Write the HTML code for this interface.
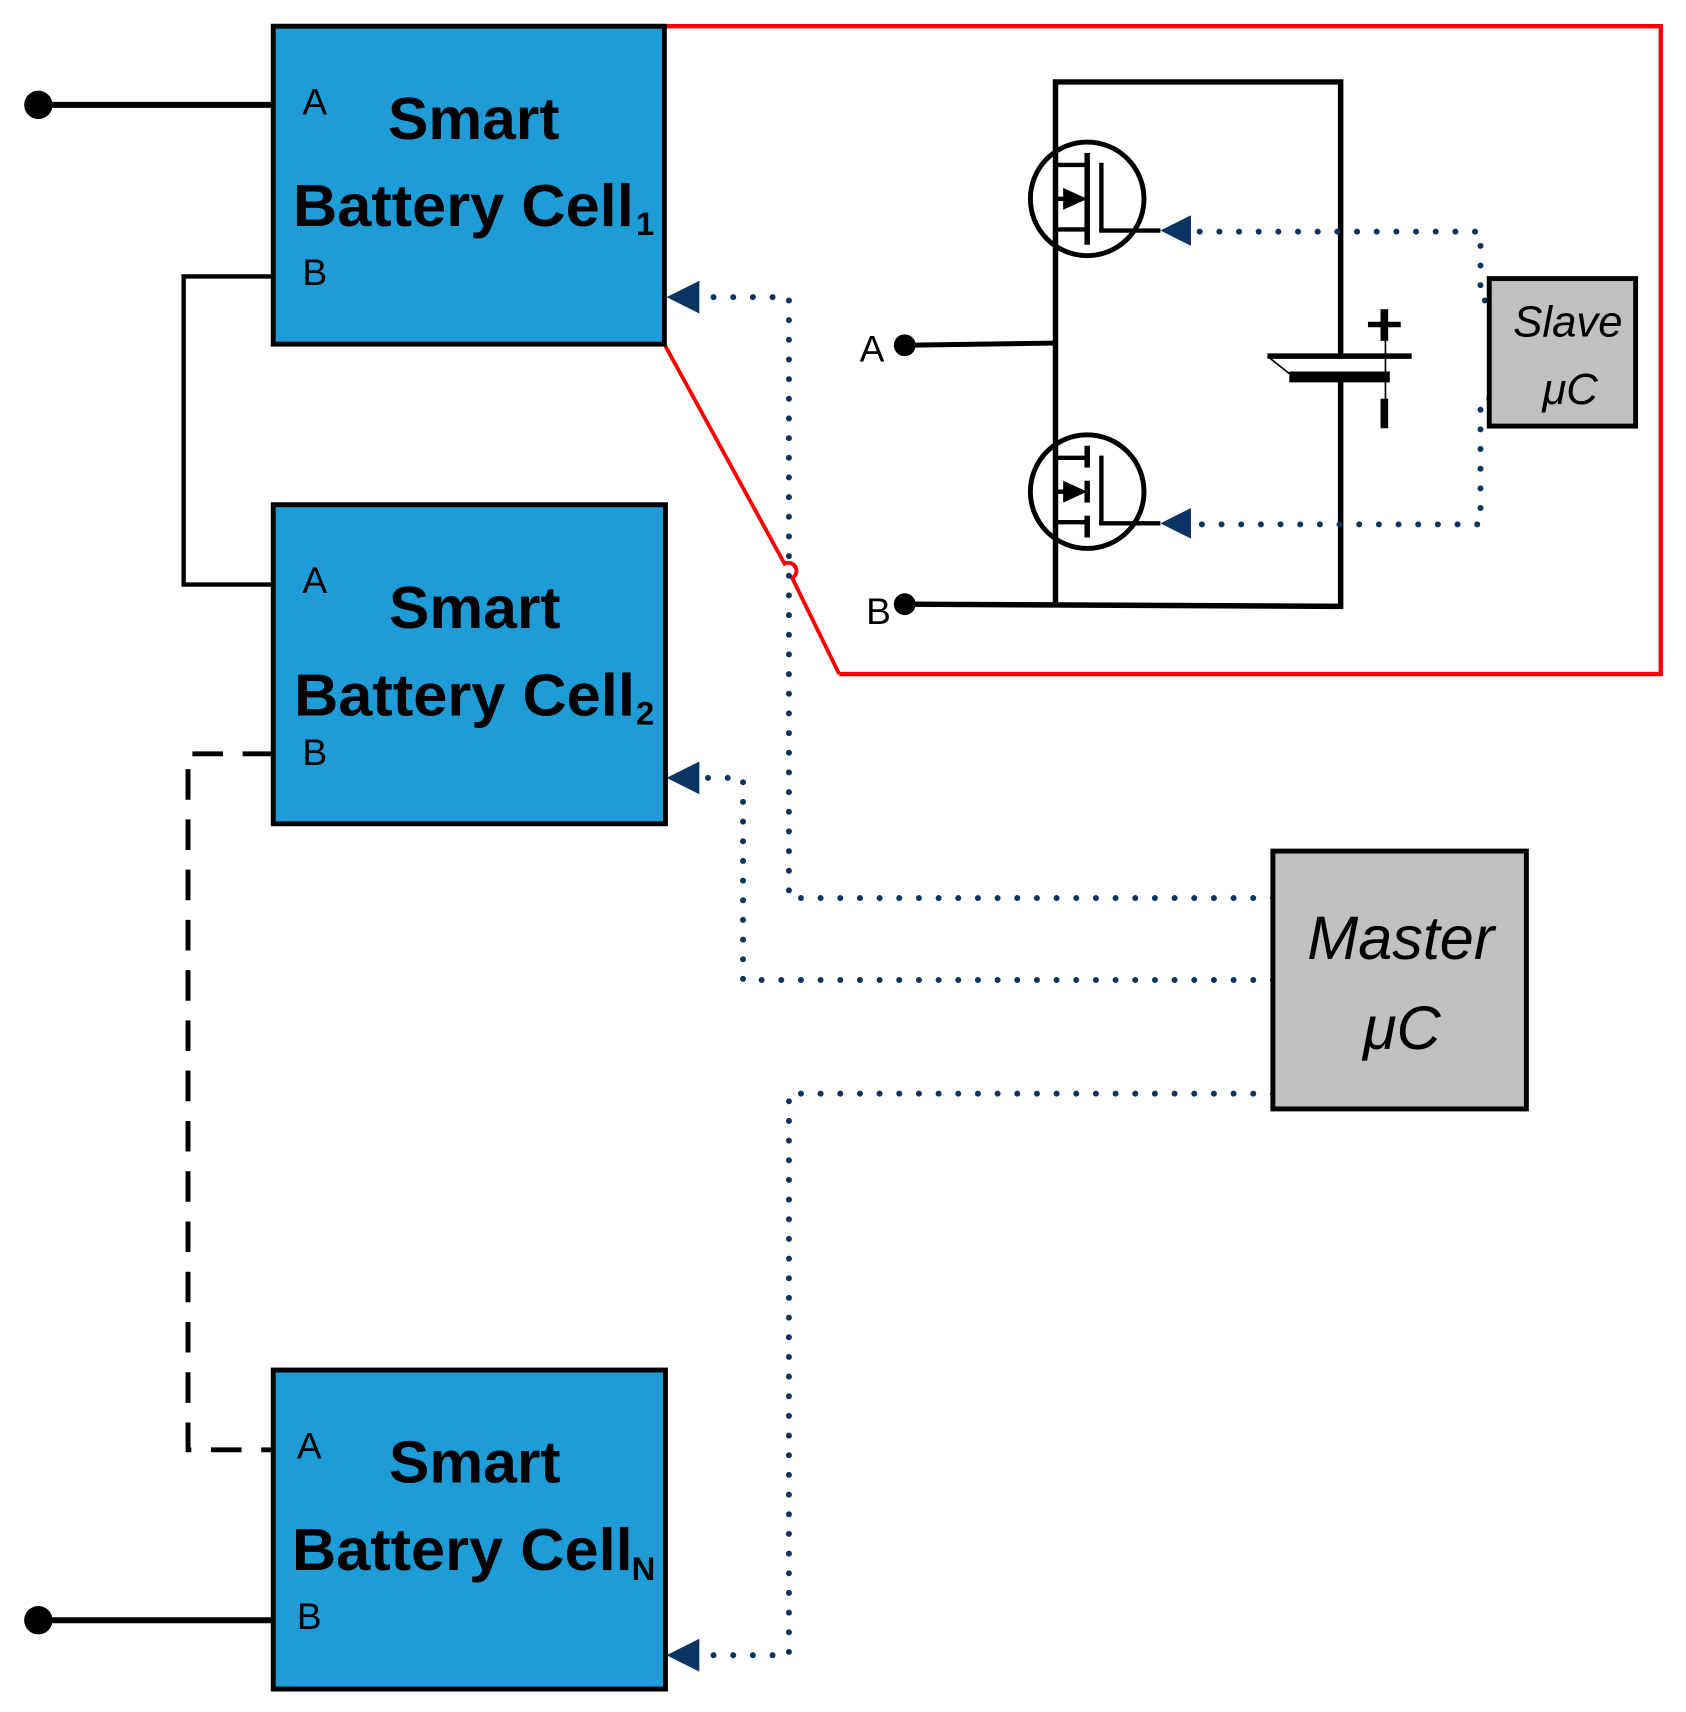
<!DOCTYPE html>
<html><head><meta charset="utf-8"><style>html,body{margin:0;padding:0;background:#fff}svg{display:block}</style></head><body>
<svg width="1686" height="1712" viewBox="0 0 1543 1567" xmlns="http://www.w3.org/2000/svg">
<defs>
<g id="fetbase">
<circle cx="995" cy="0" r="52" fill="none" stroke="#000" stroke-width="4.5"/>
<line x1="965" y1="-31" x2="995" y2="-31" stroke="#000" stroke-width="4"/>
<line x1="965" y1="28" x2="995" y2="28" stroke="#000" stroke-width="4"/>
<line x1="965" y1="0" x2="980" y2="0" stroke="#000" stroke-width="4"/>
<polygon points="973,-10 973,10 995,0" fill="#000"/>
<line x1="1008" y1="-33" x2="1008" y2="30" stroke="#000" stroke-width="4"/>
<line x1="1006" y1="29" x2="1062" y2="29" stroke="#000" stroke-width="4"/>
<polygon points="1062,29 1090,15 1090,43" fill="#0b3463"/>
</g>
</defs>
<!-- red -->
<polyline points="608,24 1520,24 1520,617 768,617" fill="none" stroke="#f00" stroke-width="4"/>
<path d="M608,315 L718,516 A5,5 0 0 1 725,529 L768,617" fill="none" stroke="#f00" stroke-width="3.5"/>
<!-- wires -->
<line x1="35" y1="96" x2="252" y2="96" stroke="#000" stroke-width="5.5"/>
<circle cx="35" cy="96" r="13" fill="#000"/>
<line x1="35" y1="1483" x2="252" y2="1483" stroke="#000" stroke-width="5.5"/>
<circle cx="35" cy="1483" r="13" fill="#000"/>
<polyline points="250,253 168,253 168,535 250,535" fill="none" stroke="#000" stroke-width="4"/>
<polyline points="250,690 172,690 172,1327 250,1327" fill="none" stroke="#000" stroke-width="4.5" stroke-dasharray="28,18"/>
<!-- cells -->
<g fill="#1e9cd7" stroke="#000" stroke-width="4.5">
<rect x="250" y="24" width="358" height="291"/>
<rect x="250" y="462" width="359" height="292"/>
<rect x="250" y="1254" width="359" height="292"/>
</g>
<g font-family="Liberation Sans, sans-serif" font-size="34" fill="#000" text-anchor="middle">
<text x="288" y="105">A</text><text x="288" y="261">B</text>
<text x="288" y="543">A</text><text x="288" y="700">B</text>
<text x="283" y="1335">A</text><text x="283" y="1491">B</text>
<text x="798" y="331">A</text><text x="804" y="571">B</text>
</g>
<g font-family="Liberation Sans, sans-serif" font-weight="bold" font-size="54" fill="#000">
<text x="355" y="127" textLength="157" lengthAdjust="spacingAndGlyphs">Smart</text>
<text x="268" y="207" textLength="312" lengthAdjust="spacingAndGlyphs">Battery Cell</text>
<text x="582" y="215" font-size="30">1</text>
<text x="356" y="575" textLength="157" lengthAdjust="spacingAndGlyphs">Smart</text>
<text x="269" y="655" textLength="312" lengthAdjust="spacingAndGlyphs">Battery Cell</text>
<text x="582" y="663" font-size="30">2</text>
<text x="356" y="1357" textLength="157" lengthAdjust="spacingAndGlyphs">Smart</text>
<text x="267" y="1437" textLength="312" lengthAdjust="spacingAndGlyphs">Battery Cell</text>
<text x="578" y="1446" font-size="30">N</text>
</g>
<!-- circuit -->
<polyline points="966,555 966,75 1227,75 1227,325" fill="none" stroke="#000" stroke-width="5"/>
<polyline points="828,553 1227,555 1227,345" fill="none" stroke="#000" stroke-width="5"/>
<line x1="828" y1="316" x2="966" y2="314" stroke="#000" stroke-width="4.5"/>
<circle cx="828" cy="316" r="10" fill="#000"/><circle cx="828" cy="553" r="10" fill="#000"/>
<line x1="1160" y1="326" x2="1292" y2="326" stroke="#000" stroke-width="5"/>
<line x1="1180" y1="345" x2="1272" y2="345" stroke="#000" stroke-width="10"/>
<line x1="1160" y1="326" x2="1180" y2="342" stroke="#000" stroke-width="1.5"/>
<line x1="1268" y1="300" x2="1268" y2="390" stroke="#000" stroke-width="1.5"/>
<line x1="1252" y1="297" x2="1282" y2="297" stroke="#000" stroke-width="5"/>
<line x1="1267" y1="283" x2="1267" y2="312" stroke="#000" stroke-width="7"/>
<line x1="1267" y1="365" x2="1267" y2="392" stroke="#000" stroke-width="7"/>
<use href="#fetbase" transform="translate(0,182)"/>
<line x1="995" y1="140" x2="995" y2="224" stroke="#000" stroke-width="5"/>
<use href="#fetbase" transform="translate(0,450)"/>
<g stroke="#000" stroke-width="5">
<line x1="995" y1="408" x2="995" y2="428"/>
<line x1="995" y1="440" x2="995" y2="460"/>
<line x1="995" y1="472" x2="995" y2="492"/>
</g>
<!-- dotted -->
<g fill="none" stroke="#0b3463" stroke-width="5.5" stroke-linecap="round" stroke-dasharray="0,18">
<polyline points="1098,212 1355,212 1355,275 1363,275"/>
<polyline points="1363,365 1355,365 1355,480 1098,480"/>
<polyline points="1165,822 722,822 722,272 640,272"/>
<polyline points="1165,897 680,897 680,712 640,712"/>
<polyline points="1165,1001 722,1001 722,1515 640,1515"/>
</g>
<g fill="#0b3463">
<polygon points="610,272 640,257 640,287"/>
<polygon points="610,712 640,697 640,727"/>
<polygon points="610,1515 640,1500 640,1530"/>
</g>
<!-- micro -->
<rect x="1363" y="255" width="134" height="135" fill="#c0c0c0" stroke="#000" stroke-width="4.5"/>
<rect x="1165" y="779" width="232" height="236" fill="#c0c0c0" stroke="#000" stroke-width="4.5"/>
<g font-family="Liberation Sans, sans-serif" font-style="italic" fill="#000" text-anchor="middle">
<text x="1435" y="308" font-size="40">Slave</text>
<text x="1437" y="370" font-size="40">μC</text>
<text x="1282" y="878" font-size="56">Master</text>
<text x="1283" y="960" font-size="56">μC</text>
</g>
</svg>
</body></html>
